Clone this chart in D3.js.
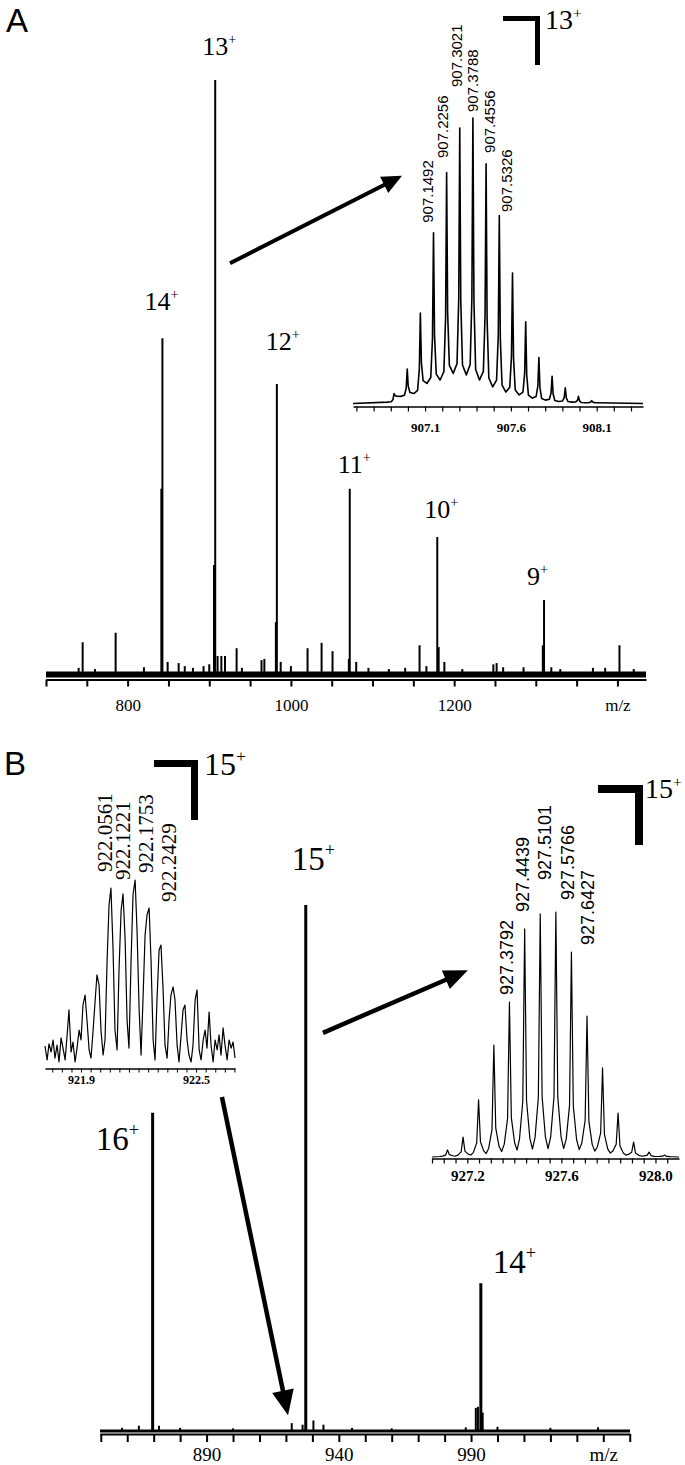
<!DOCTYPE html>
<html>
<head>
<meta charset="utf-8">
<title>ESI spectra</title>
<script src="https://cdn.jsdelivr.net/npm/d3@7"></script>
<style>
  body { margin: 0; background: #fff; }
  svg { display: block; }
</style>
</head>
<body>
<div id="chart"></div>
<script>
// ---------- panel A : charge state envelope ----------
var chargeA = ["14", "13", "12", "11", "10", "9"];
var chargeA_mz = [842.6, 907.3, 982.8, 1072.1, 1179.3, 1310.1];
var chargeA_int = [56.6, 100, 48.9, 31.3, 23.2, 12.6];

// shoulders and small peaks
var minorA_mz = [740, 744.9, 760, 785.3, 820, 841.3, 849, 862.5, 870, 880, 893, 900, 905.8, 910.2, 914.8,
  919.3, 933.5, 940, 964, 967.5, 981.6, 987.5, 1000, 1020.4, 1037.6, 1051, 1071, 1080, 1095, 1120,
  1140, 1157.6, 1166, 1181, 1188, 1210, 1248, 1252, 1260, 1285, 1308.6, 1319, 1330, 1370, 1385, 1402.5, 1420];
var minorA_int = [1.2, 5.5, 1.0, 7.1, 1.3, 31.3, 2.2, 2.0, 1.5, 1.2, 1.5, 1.8, 18.5, 3.2, 3.2,
  3.2, 4.5, 1.2, 2.5, 2.7, 8.9, 2.2, 1.5, 4.5, 5.4, 4.0, 2.7, 2.2, 1.2, 1.0,
  1.2, 5.0, 1.5, 4.7, 2.2, 1.0, 1.8, 2.0, 1.3, 1.3, 5.0, 1.3, 1.0, 1.2, 1.2, 5.0, 1.0];

var ticksA = [700, 750, 800, 850, 900, 950, 1000, 1050, 1100, 1150, 1200, 1250, 1300, 1350, 1400];
var tickLabA_val = [800, 1000, 1200, 1400];
var tickLabA_txt = ["800", "1000", "1200", "m/z"];

// inset A : 13+ isotope cluster
var isoA_mz = [906.919, 906.996, 907.0725, 907.1492, 907.2256, 907.3021, 907.3788, 907.4556,
  907.5326, 907.6095, 907.6864, 907.7633, 907.8402, 907.9171, 907.994, 908.071];
var isoA_int = [4, 12.5, 32, 60, 81, 96.5, 100, 84, 66, 46, 29, 16.5, 10, 6, 3, 1.5];
var isoA_valley = [1, 3, 4, 7.5, 8.7, 11, 10.5, 8.7, 6.3, 4.5, 3.5, 2.4, 1.7, 1.2, 1, 0.8, 0.8];
var isoA_labels = ["907.1492", "907.2256", "907.3021", "907.3788", "907.4556", "907.5326"];
var isoA_labelPeak = [3, 4, 5, 6, 7, 8];
var isoA_ticks = [906.7, 906.8, 906.9, 907.0, 907.1, 907.2, 907.3, 907.4, 907.5, 907.6, 907.7,
  907.8, 907.9, 908.0, 908.1, 908.2, 908.3];
var isoA_tickLab = [907.1, 907.6, 908.1];

// ---------- panel B ----------
var chargeB = ["16", "15", "14"];
var chargeB_mz = [869.6, 927.5, 993.7];
var chargeB_int = [60.5, 100, 28.1];
var minorB_mz = [858, 864.4, 872, 880, 900, 922.2, 926.3, 930.4, 934.2, 945, 960, 988, 991.8, 992.6, 994.4, 1000, 1020, 1038];
var minorB_int = [0.6, 1.0, 1.0, 0.6, 0.5, 1.5, 1.2, 2.0, 1.2, 0.6, 0.5, 0.7, 4.4, 4.6, 3.5, 0.8, 0.6, 0.7];
var ticksB = [850, 860, 870, 880, 890, 900, 910, 920, 930, 940, 950, 960, 970, 980, 990, 1000,
  1010, 1020, 1030, 1040, 1050];
var tickLabB_val = [890, 940, 990, 1040];
var tickLabB_txt = ["890", "940", "990", "m/z"];

// inset B left : 15+ species at 922 (noisy trace)
var isoBL_mz = [921.712, 921.723, 921.733, 921.744, 921.754, 921.764, 921.775, 921.785, 921.796, 921.806,
  921.817, 921.827, 921.837, 921.848, 921.858, 921.869, 921.879, 921.890, 921.900, 921.910,
  921.921, 921.931, 921.942, 921.952, 921.963, 921.973, 921.983, 921.994, 922.004, 922.015,
  922.025, 922.036, 922.046, 922.056, 922.067, 922.077, 922.088, 922.098, 922.109, 922.119,
  922.130, 922.140, 922.150, 922.161, 922.171, 922.182, 922.192, 922.203, 922.213, 922.223,
  922.234, 922.244, 922.255, 922.265, 922.276, 922.286, 922.296, 922.307, 922.317, 922.328,
  922.338, 922.349, 922.359, 922.369, 922.380, 922.390, 922.401, 922.411, 922.422, 922.432,
  922.442, 922.453, 922.463, 922.474, 922.484, 922.495, 922.505, 922.516, 922.526, 922.537,
  922.547, 922.557, 922.568, 922.578, 922.589, 922.599, 922.610, 922.620, 922.630, 922.641,
  922.651, 922.662, 922.672, 922.683, 922.693, 922.703];
var isoBL_int = [11.7, 4.3, 12.8, 8.5, 14.9, 5.3, 12.2, 3.2, 16.0, 10.6,
  4.3, 17.0, 30.9, 8.5, 13.8, 3.2, 10.6, 20.2, 14.9, 33.5,
  38.8, 25.5, 9.6, 5.3, 20.2, 35.1, 49.5, 44.1, 20.2, 6.9,
  14.9, 57.4, 86.7, 95.7, 62.8, 20.2, 9.6, 52.1, 84.0, 92.6,
  68.1, 25.5, 10.6, 57.4, 92.0, 100, 73.4, 30.9, 6.9, 36.2,
  70.7, 81.4, 85.1, 57.4, 14.9, 4.3, 36.2, 62.8, 65.4, 41.5,
  12.2, 5.3, 25.5, 38.8, 43.1, 36.2, 12.2, 3.2, 17.6, 30.9,
  33.5, 14.9, 6.9, 3.2, 12.2, 36.2, 41.5, 9.6, 4.3, 14.9,
  20.2, 10.6, 29.8, 12.2, 3.2, 14.9, 9.6, 17.6, 6.9, 21.3,
  12.2, 4.3, 14.9, 10.6, 13.8, 5.3];
var isoBL_labels = ["922.0561", "922.1221", "922.1753", "922.2429"];
var isoBL_labelMz = [922.0561, 922.1221, 922.1753, 922.2429];
var isoBL_labelInt = [95.7, 92.6, 100, 85.1];
var isoBL_ticks = [921.75, 921.8, 921.85, 921.9, 921.95, 922.0, 922.05, 922.1, 922.15, 922.2,
  922.25, 922.3, 922.35, 922.4, 922.45, 922.5, 922.55, 922.6, 922.65, 922.7];
var isoBL_tickLab = [921.9, 922.5];

// inset B right : 15+ isotope cluster
var isoBR_mz = [927.116, 927.182, 927.248, 927.313, 927.3792, 927.4439, 927.5101, 927.5766,
  927.6427, 927.709, 927.775, 927.841, 927.907, 927.973, 928.039];
var isoBR_int = [3.3, 8.5, 23.6, 45.9, 63.4, 93.1, 99.2, 100, 83.7, 57.7, 36.6, 18.3, 6.5, 2.4, 1.2];
var isoBR_valley = [0.6, 0.8, 1.2, 1.8, 2.6, 3.2, 3.6, 3.8, 3.8, 3.4, 2.8, 2.0, 1.2, 0.8, 0.6, 0.5];
var isoBR_labels = ["927.3792", "927.4439", "927.5101", "927.5766", "927.6427"];
var isoBR_labelPeak = [4, 5, 6, 7, 8];
var isoBR_ticks = [927.05, 927.1, 927.15, 927.2, 927.25, 927.3, 927.35, 927.4, 927.45, 927.5,
  927.55, 927.6, 927.65, 927.7, 927.75, 927.8, 927.85, 927.9, 927.95, 928.0, 928.05];
var isoBR_tickLab = [927.2, 927.6, 928.0];

// ---------- drawing ----------
var serif = '"Liberation Serif", "Times New Roman", serif';
var sans = '"Liberation Sans", Arial, sans-serif';

var svg = d3.select("#chart").append("svg")
    .attr("width", 685)
    .attr("height", 1465)
    .style("background", "#fff");

function near(a, b) { return Math.abs(a - b) < 1e-6; }

function bottomAxis(scale, y, ticks, labVals, labTxt, o) {
  var axis = d3.axisBottom(scale)
      .tickValues(ticks)
      .tickSize(o.tick)
      .tickSizeOuter(0)
      .tickPadding(o.pad)
      .tickFormat(function (d) {
        for (var i = 0; i < labVals.length; i++) {
          if (near(labVals[i], d)) return labTxt[i];
        }
        return "";
      });
  var g = svg.append("g").attr("transform", "translate(0," + y + ")").call(axis);
  g.attr("font-family", null);
  g.select(".domain").attr("stroke", "#000").attr("stroke-width", o.width);
  g.selectAll(".tick line").attr("stroke", "#000").attr("stroke-width", o.tickWidth);
  g.selectAll(".tick text")
      .attr("fill", "#000")
      .style("font-family", serif)
      .style("font-size", o.font + "px")
      .style("font-weight", o.bold ? "bold" : "normal");
  return g;
}

function chargeLabel(x, y, num, size) {
  var t = svg.append("text")
      .attr("x", x).attr("y", y)
      .style("font-family", serif)
      .style("font-size", size + "px")
      .attr("fill", "#000");
  t.append("tspan").text(num);
  t.append("tspan").attr("dy", -size * 0.42).style("font-size", (size * 0.55) + "px").text("+");
}

function arrow(x1, y1, x2, y2, len, half, w) {
  var dx = x2 - x1, dy = y2 - y1, d = Math.sqrt(dx * dx + dy * dy);
  var ux = dx / d, uy = dy / d;
  var bx = x2 - ux * len, by = y2 - uy * len;
  svg.append("line")
      .attr("x1", x1).attr("y1", y1).attr("x2", bx + ux * 2).attr("y2", by + uy * 2)
      .attr("stroke", "#000").attr("stroke-width", w);
  svg.append("path")
      .attr("d", "M" + x2 + "," + y2 +
        "L" + (bx - uy * half) + "," + (by + ux * half) +
        "L" + (bx + uy * half) + "," + (by - ux * half) + "Z")
      .attr("fill", "#000");
}

function scaleBar(x, y, w, h, t, num, size, gap) {
  svg.append("rect").attr("x", x - w).attr("y", y).attr("width", w).attr("height", t).attr("fill", "#000");
  svg.append("rect").attr("x", x - t).attr("y", y).attr("width", t).attr("height", h).attr("fill", "#000");
  chargeLabel(x + gap, y + size * 0.48, num, size);
}

// builds a profile path from a stick list: valley -> foot -> apex -> foot -> valley
function profile(mz, inten, valley, lo, hi, edge, feet) {
  var pts = [[lo, edge]];
  for (var i = 0; i < mz.length; i++) {
    var left = i === 0 ? mz[0] - (mz[1] - mz[0]) / 2 : (mz[i - 1] + mz[i]) / 2;
    var v = valley[i], vn = valley[i + 1];
    pts.push([left, v]);
    feet.forEach(function (f) { pts.push([mz[i] - f[0], v + f[1] * (inten[i] - v)]); });
    pts.push([mz[i], inten[i]]);
    feet.slice().reverse().forEach(function (f) { pts.push([mz[i] + f[0], vn + f[1] * (inten[i] - vn)]); });
  }
  var last = mz.length - 1;
  pts.push([mz[last] + (mz[last] - mz[last - 1]) / 2, valley[valley.length - 1]]);
  pts.push([hi, edge]);
  return pts;
}

function sticks(x, y, mz, inten, w) {
  svg.append("g").selectAll("line")
      .data(mz)
      .enter().append("line")
      .attr("x1", function (d) { return x(d); })
      .attr("x2", function (d) { return x(d); })
      .attr("y1", y(0))
      .attr("y2", function (d, i) { return y(inten[i]); })
      .attr("stroke", "#000")
      .attr("stroke-width", w);
}

function rotLabels(x, y, texts, mzs, ints, dxs, lifts, font, size) {
  svg.append("g").selectAll("text")
      .data(texts)
      .enter().append("text")
      .attr("transform", function (d, i) {
        return "translate(" + (x(mzs[i]) + dxs[i]) + "," + (y(ints[i]) - lifts[i]) + ") rotate(-90)";
      })
      .style("font-family", font)
      .style("font-size", size + "px")
      .attr("fill", "#000")
      .text(function (d) { return d; });
}

// ===== panel A main =====
var xA = d3.scaleLinear().domain([700, 1435]).range([46, 646]);
var yA = d3.scaleLinear().domain([0, 100]).range([675, 80]);

svg.append("text").attr("x", 6).attr("y", 32)
    .style("font-family", sans).style("font-size", "33px").text("A");

svg.append("line")
    .attr("x1", xA(700)).attr("x2", xA(1435))
    .attr("y1", yA(0) - 0.5).attr("y2", yA(0) - 0.5)
    .attr("stroke", "#000").attr("stroke-width", 6);
sticks(xA, yA, minorA_mz, minorA_int, 2);
sticks(xA, yA, chargeA_mz, chargeA_int, 2);

bottomAxis(xA, 679.5, ticksA, tickLabA_val, tickLabA_txt,
    { tick: 7, pad: 12.5, width: 2, tickWidth: 2, font: 17, bold: false });

var chargeA_dx = [-18, -13, -11, -12, -13, -17];
var chargeA_lift = [28, 25, 34, 16, 19, 15];
chargeA.forEach(function (c, i) {
  chargeLabel(xA(chargeA_mz[i]) + chargeA_dx[i], yA(chargeA_int[i]) - chargeA_lift[i], c, 26);
});

arrow(xA(925.4), yA(69.2), xA(1136.1), yA(83.9), 20, 9, 4);

// ===== inset A =====
var xIA = d3.scaleLinear().domain([906.68, 908.37]).range([353, 643]);
var yIA = d3.scaleLinear().domain([0, 100]).range([405, 118]);
var lineIA = d3.line().x(function (d) { return xIA(d[0]); }).y(function (d) { return yIA(d[1]); });
svg.append("path")
    .datum(profile(isoA_mz, isoA_int, isoA_valley, 906.68, 908.37, 0.5, [[0.016, 0.04], [0.006, 0.3]]))
    .attr("d", lineIA)
    .attr("fill", "none").attr("stroke", "#000").attr("stroke-width", 1.6)
    .attr("stroke-linejoin", "round");
bottomAxis(xIA, 406.5, isoA_ticks, isoA_tickLab, isoA_tickLab.map(function (d) { return d.toFixed(1); }),
    { tick: 5, pad: 11, width: 1.5, tickWidth: 1.2, font: 13, bold: true });
rotLabels(xIA, yIA, isoA_labels,
    isoA_labelPeak.map(function (k) { return isoA_mz[k]; }),
    isoA_labelPeak.map(function (k) { return isoA_int[k]; }),
    [-0.5, 1.4, 2.3, 5.1, 8.9, 12.7], [10, 14.5, 41, 6, 11, 3.6], sans, 15);
scaleBar(540, 16, 37, 49, 5, "13", 28, 5);

// ===== panel B main =====
var xB = d3.scaleLinear().domain([849.7, 1050.1]).range([100, 630]);
var yB = d3.scaleLinear().domain([0, 100]).range([1431, 905]);

svg.append("text").attr("x", 4).attr("y", 775)
    .style("font-family", sans).style("font-size", "33px").text("B");

svg.append("line")
    .attr("x1", xB(849.7)).attr("x2", xB(1050.1))
    .attr("y1", yB(0)).attr("y2", yB(0))
    .attr("stroke", "#000").attr("stroke-width", 3);
sticks(xB, yB, minorB_mz, minorB_int, 2);
sticks(xB, yB, chargeB_mz, chargeB_int, 3);

bottomAxis(xB, 1434, ticksB, tickLabB_val, tickLabB_txt,
    { tick: 8, pad: 5.5, width: 2, tickWidth: 2, font: 19, bold: false });

var chargeB_dx = [-57, -14, 12];
var chargeB_lift = [-37, 35, 10];
chargeB.forEach(function (c, i) {
  chargeLabel(xB(chargeB_mz[i]) + chargeB_dx[i], yB(chargeB_int[i]) - chargeB_lift[i], c, 33);
});

arrow(xB(934.0), yB(75.7), xB(988.8), yB(87.6), 24, 10, 4.5);
arrow(xB(895.8), yB(63.5), xB(920.8), yB(3.0), 25, 11, 4.5);

// ===== inset B left =====
var xBL = d3.scaleLinear().domain([921.712, 922.703]).range([45, 235]);
var yBL = d3.scaleLinear().domain([0, 100]).range([1068, 880]);
svg.append("path")
    .datum(isoBL_mz.map(function (m, i) { return [m, isoBL_int[i]]; }))
    .attr("d", d3.line().x(function (d) { return xBL(d[0]); }).y(function (d) { return yBL(d[1]); }))
    .attr("fill", "none").attr("stroke", "#000").attr("stroke-width", 1.2)
    .attr("stroke-linejoin", "round");
bottomAxis(xBL, 1068.5, isoBL_ticks, isoBL_tickLab, isoBL_tickLab.map(function (d) { return d.toFixed(1); }),
    { tick: 4, pad: 2.5, width: 1.5, tickWidth: 1, font: 12, bold: true });
rotLabels(xBL, yBL, isoBL_labels, isoBL_labelMz, isoBL_labelInt,
    [1, 6.4, 19.2, 29.2], [16, 14, 7, 6], serif, 21);
scaleBar(198, 760, 44, 60, 7, "15", 32, 6);

// ===== inset B right =====
var xBR = d3.scaleLinear().domain([927.05, 928.10]).range([432, 679]);
var yBR = d3.scaleLinear().domain([0, 100]).range([1158, 912]);
svg.append("path")
    .datum(profile(isoBR_mz, isoBR_int, isoBR_valley, 927.05, 928.10, 0.4, [[0.022, 0.05], [0.008, 0.22]]))
    .attr("d", d3.line().x(function (d) { return xBR(d[0]); }).y(function (d) { return yBR(d[1]); }))
    .attr("fill", "none").attr("stroke", "#000").attr("stroke-width", 1.2)
    .attr("stroke-linejoin", "round");
bottomAxis(xBR, 1158.5, isoBR_ticks, isoBR_tickLab, isoBR_tickLab.map(function (d) { return d.toFixed(1); }),
    { tick: 5, pad: 7, width: 1.5, tickWidth: 1.2, font: 15, bold: true });
rotLabels(xBR, yBR, isoBR_labels,
    isoBR_labelPeak.map(function (k) { return isoBR_mz[k]; }),
    isoBR_labelPeak.map(function (k) { return isoBR_int[k]; }),
    [3.8, 4.6, 11, 18.4, 22.9], [7, 17, 34, 12, 7], sans, 18);
scaleBar(643, 785, 45, 60, 8, "15", 28, 2);
</script>
</body>
</html>
